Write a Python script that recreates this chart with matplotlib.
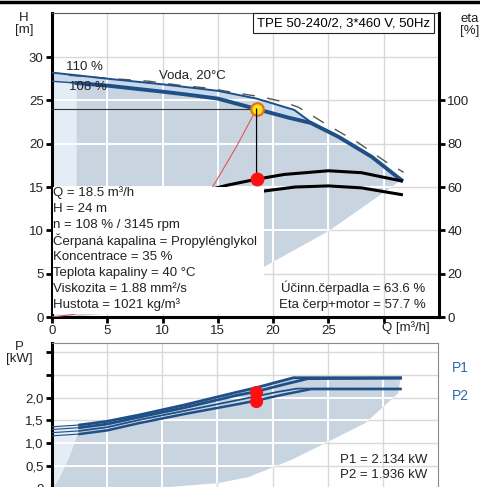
import matplotlib
matplotlib.use('Agg')
import matplotlib.pyplot as plt
from matplotlib.patches import Rectangle, ConnectionPatch
from matplotlib.lines import Line2D

plt.rcParams['font.family'] = ['Liberation Sans', 'DejaVu Sans']
plt.rcParams['font.size'] = 9.5

# --- Q-H krivky (Q v m3/h, H v m) ---
q_110 = [0, 2.2, 5, 10, 15, 18.5, 21.9, 23.4, 25.9, 28.9, 31.6]
h_110 = [28.2, 27.9, 27.5, 26.85, 26.1, 25.2, 23.9, 22.5, 20.8, 18.5, 15.8]
q_108 = [0, 2.2, 5, 10, 12, 15, 18.5, 21.4, 23.4, 25.9, 28.9, 31.6]
h_108 = [27.2, 27.0, 26.7, 26.0, 25.7, 25.2, 24.0, 23.0, 22.4, 20.8, 18.5, 15.8]
q_voda = [1.5, 3.4, 8.8, 11.8, 14.2, 16.9, 19, 21, 22.3, 24.6, 27.7, 30.2, 31.8]
h_voda = [27.9, 27.7, 27.2, 26.7, 26.4, 25.8, 25.4, 24.8, 24.2, 22.4, 20.1, 17.9, 16.7]
# spodni hranice pracovni oblasti
q_min = [2.2, 5, 10, 15, 19.2, 25, 31.6]
h_min = [0.08, 0.4, 1.6, 3.6, 5.8, 9.9, 15.8]
# krivka systemu
q_sys = [0, 2, 5, 8, 11, 13, 14.9, 16.7, 18.5]
h_sys = [0, 0.3, 1.8, 4.6, 8.6, 11.9, 15.8, 19.7, 24]

# --- ucinnost ---
q_eta_p = [12, 14, 16, 18.5, 21, 25, 28, 31.6]
eta_p = [55, 58.5, 61.0, 63.6, 65.8, 67.5, 66.6, 62.8]
q_eta_pm = [15, 18.5, 22, 25, 28, 31.6]
eta_pm = [54, 57.7, 60.0, 60.5, 59.6, 56.5]

# --- prikon ---
q_p1_110 = [0, 2.5, 5, 7.9, 12, 16.9, 18.5, 20.5, 21.9, 31.6]
p1_110 = [1.36, 1.40, 1.48, 1.62, 1.84, 2.13, 2.22, 2.35, 2.44, 2.44]
q_p1_108 = [0, 2.5, 5, 7.9, 12, 16.9, 18.5, 21, 23.2, 31.6]
p1_108 = [1.30, 1.34, 1.42, 1.57, 1.78, 2.06, 2.134, 2.29, 2.42, 2.43]
q_p2_110 = [0, 2.5, 5, 7.9, 12, 16.9, 18.5, 20.5, 22.2, 31.6]
p2_110 = [1.23, 1.27, 1.35, 1.51, 1.71, 1.95, 2.03, 2.13, 2.20, 2.20]
q_p2_108 = [0, 2.5, 5, 7.9, 12, 16.9, 18.5, 21, 23.5, 31.6]
p2_108 = [1.16, 1.20, 1.28, 1.44, 1.64, 1.86, 1.936, 2.07, 2.19, 2.19]
q_pmin = [0, 10, 15.1, 17.8, 21.7, 24.8, 28.4, 31.4, 31.6]
p_pmin = [0, 0.02, 0.12, 0.25, 0.63, 1.0, 1.44, 2.10, 2.44]
q_plb = [0, 0.6, 1.2, 1.8, 2.3, 2.5]
p_plb = [0, 0.2, 0.5, 0.85, 1.2, 1.40]

# pracovni bod
q_op, h_op, eta_op_p = 18.5, 24, 63.6
p1_op, p2_op = 2.134, 1.936

x_ticks = [0, 5, 10, 15, 20, 25, 30]
x_labels = ['0', '5', '10', '15', '20', '25', '']
h_ticks = [0, 5, 10, 15, 20, 25, 30]
eta_ticks = [0, 20, 40, 60, 80, 100]
p_ticks = [0, 0.5, 1.0, 1.5, 2.0, 2.5, 3.0]
p_labels = ['0', '0,5', '1,0', '1,5', '2,0', '', '']

info_lines = ['Q = 18.5 m³/h', 'H = 24 m', 'n = 108 % / 3145 rpm',
              'Čerpaná kapalina = Propylénglykol', 'Koncentrace = 35 %',
              'Teplota kapaliny = 40 °C', 'Viskozita = 1.88 mm²/s',
              'Hustota = 1021 kg/m³']

BLUE = '#1f4f87'
FILL = '#c9d4e1'
BAND = '#c7d9ed'
LIGHT = '#e4ecf6'
GRID = '#d9d9d9'


def grids(axis, patches, xs, ys):
    # seda mrizka vsude, bila jen uvnitr vyplne
    for x in xs:
        axis.plot([x, x], [0, 1], transform=axis.get_xaxis_transform(),
                  color=GRID, lw=1.0, zorder=0.5)
    for y in ys:
        axis.plot([0, 1], [y, y], transform=axis.get_yaxis_transform(),
                  color=GRID, lw=1.0, zorder=0.5)
    for patch in patches:
        for x in xs:
            ln, = axis.plot([x, x], [0, 1], transform=axis.get_xaxis_transform(),
                            color='white', lw=1.4, zorder=1.5)
            ln.set_clip_path(patch)
        for y in ys:
            ln, = axis.plot([0, 1], [y, y], transform=axis.get_yaxis_transform(),
                            color='white', lw=1.4, zorder=1.5)
            ln.set_clip_path(patch)


fig = plt.figure(figsize=(4.81, 4.87), dpi=100)
fig.add_artist(Line2D([0, 1], [1 - 1.5/487, 1 - 1.5/487], color='black', lw=2.5))

# ==================== HORNI GRAF: Q-H ====================
ax = fig.add_axes([52/481, 170/487, 387/481, 304/487])
band = ax.fill(q_110 + q_108[::-1], h_110 + h_108[::-1], color=BAND, lw=0, zorder=1)[0]
dark = ax.fill(q_108[1:] + q_min[::-1], h_108[1:] + h_min[::-1], color=FILL, lw=0, zorder=1)[0]
light = ax.fill([0, 0, 2.2, 2.2], [0, h_108[0], h_108[1], 0], color=LIGHT, lw=0, zorder=1)[0]
grids(ax, (band, dark, light), x_ticks[1:], h_ticks[1:])

ax.plot(q_voda, h_voda, color='#555555', lw=1, dashes=(9, 9), zorder=2)
ax.plot(q_110, h_110, color=BLUE, lw=1.4, zorder=3)
ax.plot(q_108[:2], h_108[:2], color=BLUE, lw=1.0, zorder=3)
ax.plot(q_108[1:], h_108[1:], color=BLUE, lw=2.8, zorder=3)
ax.plot(q_sys, h_sys, color='#e05555', lw=0.8, zorder=3)
ax.plot([0, q_op], [h_op, h_op], color='#333333', lw=0.8, zorder=3)
ax.plot(q_op, h_op, 'o', ms=9, mfc='#ffe21a', mec='#e8701a', mew=1.6, zorder=6)

ax.set_xlim(0, 35)
ax.set_ylim(0, 35.08)
ax.set_xticks(x_ticks)
ax.set_xticklabels(x_labels)
ax.set_yticks(h_ticks)

ax.text(2.9, 28.9, '110 %', ha='center', va='center', color='#222222', zorder=4)
ax.text(3.2, 26.5, '108 %', ha='center', va='center', color='#222222', zorder=4)
ax.text(12.7, 27.9, 'Voda, 20°C', ha='center', va='center', color='#222222', zorder=4)
ax.text(34.2, 33.9, 'TPE 50-240/2, 3*460 V, 50Hz', ha='right', va='center', zorder=7,
        bbox=dict(boxstyle='square,pad=0.3', fc='white', ec='#222222', lw=0.8))

for side in ('left', 'bottom'):
    ax.spines[side].set_linewidth(2.2)
ax.spines['top'].set_linewidth(0.8)
ax.spines['top'].set_color('#555555')
ax.spines['right'].set_visible(False)
ax.tick_params(axis='both', length=4.5, width=2, pad=1.5, labelcolor='#222222')
ax.text(29.8, -0.036, 'Q [m³/h]', transform=ax.get_xaxis_transform(),
        ha='left', va='center', color='#222222')

# eta osa vpravo
ax2 = ax.twinx()
ax2.set_ylim(0, 35.08 * 4)
ax2.set_yticks(eta_ticks)
for side in ('left', 'bottom', 'top'):
    ax2.spines[side].set_visible(False)
ax2.spines['right'].set_linewidth(2.2)
ax2.tick_params(axis='y', length=4.5, width=2, pad=1.5, labelcolor='#222222')

ax2.plot(q_eta_p, eta_p, color='black', lw=2.2, zorder=2)
ax2.plot(q_eta_pm, eta_pm, color='black', lw=2.2, zorder=2)
ax2.add_artist(ConnectionPatch(xyA=(q_op, h_op), coordsA=ax.transData,
                               xyB=(q_op, eta_op_p), coordsB=ax2.transData,
                               color='black', lw=0.9, zorder=2))
ax2.plot(q_op, eta_op_p, 'o', ms=9, color='#ff1010', zorder=3)

# bily box s udaji
ax2.add_patch(Rectangle((0.05, 0.35), 19.15, 14.7, transform=ax.transData,
                        fc='white', ec='none', zorder=5))
for i, line in enumerate(info_lines):
    ax2.text(0.1, 14.3 - i * 1.84, line, transform=ax.transData,
             ha='left', va='center', color='#222222', zorder=6)
ax2.text(33.8, 3.35, 'Účinn.čerpadla = 63.6 %', transform=ax.transData,
         ha='right', va='center', color='#222222', zorder=6)
ax2.text(33.8, 1.4, 'Eta čerp+motor = 57.7 %', transform=ax.transData,
         ha='right', va='center', color='#222222', zorder=6)

fig.text(24/481, 1 - 24/487, 'H\n[m]', ha='center', va='center', linespacing=1.0, color='#222222')
fig.text(470/481, 1 - 25/487, 'eta\n[%]', ha='center', va='center', linespacing=1.0, color='#222222')

# ==================== DOLNI GRAF: P ====================
axp = fig.add_axes([52/481, -1.5/487, 386/481, 145.5/487])
pdark = axp.fill(q_plb + q_p1_110[2:] + q_pmin[::-1], p_plb + p1_110[2:] + p_pmin[::-1],
                 color=FILL, lw=0, zorder=1)[0]
plight = axp.fill([0] + q_p1_110[:2] + q_plb[::-1], [p1_110[0]] + p1_110[:2] + p_plb[::-1],
                  color=LIGHT, lw=0, zorder=1)[0]
grids(axp, (pdark, plight), x_ticks[1:], p_ticks[1:])

for qq, pp, lw in ((q_p1_110, p1_110, 2.0), (q_p1_108, p1_108, 2.0),
                   (q_p2_110, p2_110, 1.3), (q_p2_108, p2_108, 1.8)):
    axp.plot(qq[:2], pp[:2], color=BLUE, lw=0.8, zorder=3)
    axp.plot(qq[1:], pp[1:], color=BLUE, lw=lw, zorder=3)
axp.plot([q_op, q_op], [p1_op, p2_op], 'o', ms=8.5, color='#ff1010', zorder=5)

axp.set_xlim(0, 35)
axp.set_ylim(0, 3.205)
axp.set_xticks(x_ticks)
axp.set_xticklabels([''] * len(x_ticks))
axp.tick_params(axis='x', length=0)
axp.set_yticks(p_ticks)
axp.set_yticklabels(p_labels)
axp.tick_params(axis='y', length=4.5, width=2, pad=1.5, labelcolor='#222222')

axp.text(34.05, 0.63, 'P1 = 2.134 kW', ha='right', va='center', color='#222222', zorder=6)
axp.text(34.05, 0.30, 'P2 = 1.936 kW', ha='right', va='center', color='#222222', zorder=6)

axp.spines['left'].set_linewidth(2.2)
axp.spines['bottom'].set_visible(False)
for side in ('top', 'right'):
    axp.spines[side].set_linewidth(0.8)
    axp.spines[side].set_color('#888888')

fig.text(19/481, 1 - 353/487, 'P\n[kW]', ha='center', va='center', linespacing=1.0, color='#222222')
fig.text(460/481, 1 - 368/487, 'P1', ha='center', va='center', color='#2d6aa5', fontsize=10)
fig.text(460/481, 1 - 396/487, 'P2', ha='center', va='center', color='#2d6aa5', fontsize=10)

fig.savefig('out.png', dpi=100)
